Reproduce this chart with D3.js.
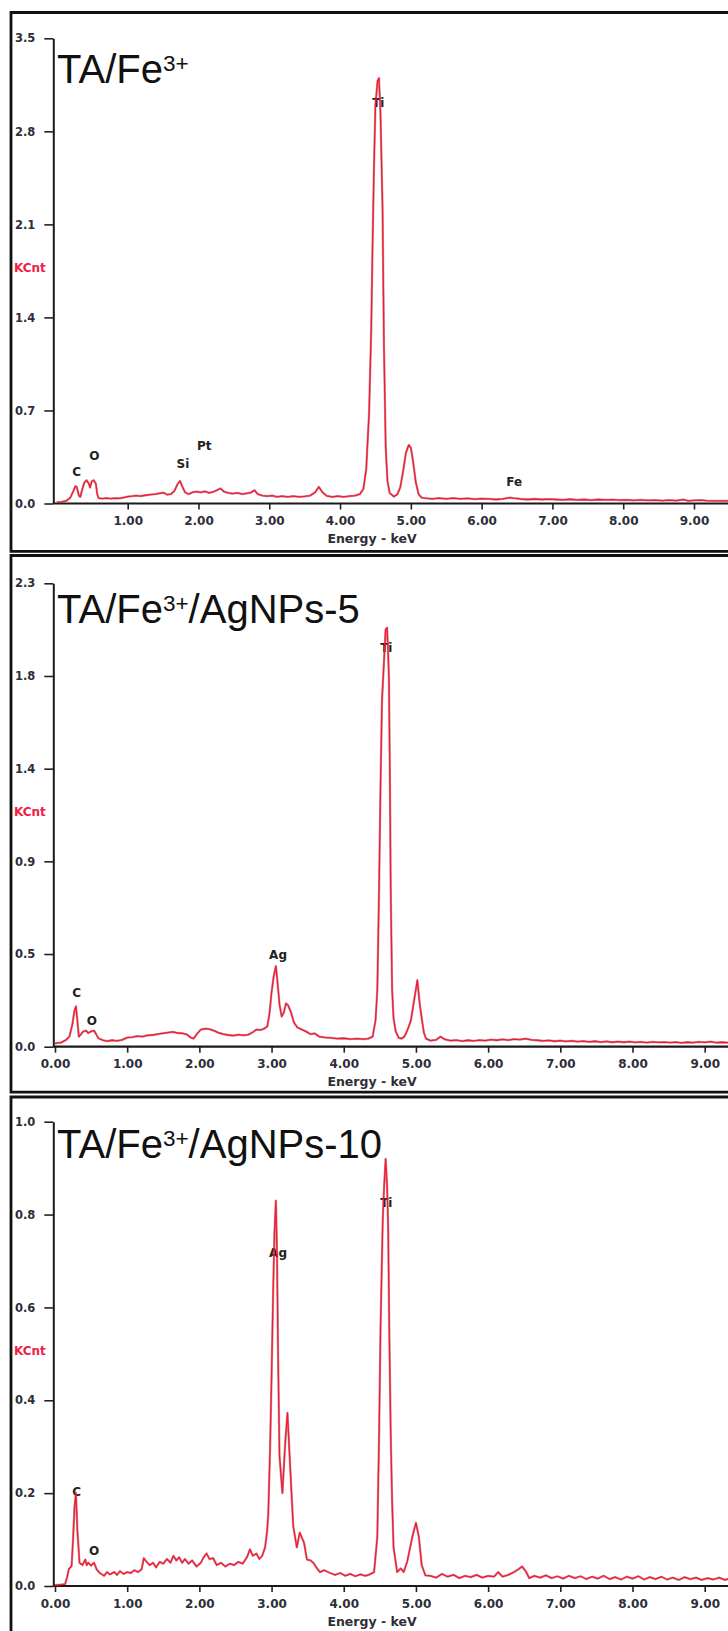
<!DOCTYPE html>
<html>
<head>
<meta charset="utf-8">
<script src="https://cdn.jsdelivr.net/npm/d3@7"></script>
<style>
  body { margin: 0; background: #fff; }
  svg { display: block; }
</style>
</head>
<body>
<svg id="chart" width="728" height="1631"></svg>
<script>
// ---- EDS spectra: [energy keV, KCnt] ----
const spectrumTA = [
  [0.00,0.010],[0.07,0.012],[0.14,0.022],[0.19,0.045],[0.23,0.09],[0.26,0.13],[0.28,0.125],[0.31,0.06],
  [0.33,0.05],[0.36,0.11],[0.39,0.16],[0.42,0.175],[0.45,0.15],[0.47,0.12],[0.49,0.165],[0.52,0.175],
  [0.55,0.15],[0.57,0.07],[0.59,0.04],[0.64,0.037],[0.70,0.04],[0.76,0.036],[0.82,0.04],[0.88,0.038],
  [0.94,0.045],[1.00,0.052],[1.06,0.055],[1.12,0.06],[1.18,0.056],[1.25,0.062],[1.32,0.066],[1.39,0.07],
  [1.45,0.076],[1.51,0.081],[1.56,0.066],[1.61,0.07],[1.66,0.095],[1.71,0.15],[1.74,0.169],[1.77,0.13],
  [1.81,0.085],[1.86,0.07],[1.92,0.085],[1.98,0.09],[2.03,0.083],[2.09,0.092],[2.15,0.08],[2.21,0.088],
  [2.26,0.10],[2.31,0.113],[2.36,0.09],[2.42,0.08],[2.48,0.074],[2.55,0.08],[2.62,0.07],[2.68,0.076],
  [2.74,0.082],[2.79,0.10],[2.84,0.07],[2.90,0.06],[2.97,0.055],[3.04,0.06],[3.11,0.05],[3.18,0.056],
  [3.26,0.05],[3.34,0.055],[3.42,0.05],[3.50,0.054],[3.58,0.06],[3.65,0.085],[3.70,0.125],[3.75,0.085],
  [3.81,0.058],[3.89,0.05],[3.97,0.055],[4.05,0.05],[4.13,0.055],[4.21,0.06],[4.28,0.07],[4.33,0.11],
  [4.37,0.26],[4.41,0.68],[4.44,1.30],[4.46,1.97],[4.48,2.55],[4.50,3.00],[4.53,3.18],[4.55,3.20],
  [4.57,2.95],[4.60,2.23],[4.62,1.19],[4.645,0.42],[4.67,0.17],[4.70,0.08],[4.76,0.052],[4.81,0.07],
  [4.85,0.12],[4.89,0.24],[4.93,0.38],[4.97,0.44],[5.00,0.42],[5.03,0.32],[5.07,0.16],[5.11,0.07],
  [5.15,0.045],[5.20,0.04],[5.30,0.035],[5.40,0.04],[5.50,0.035],[5.60,0.04],[5.70,0.035],[5.80,0.038],
  [5.90,0.033],[6.00,0.036],[6.10,0.035],[6.20,0.03],[6.30,0.035],[6.40,0.045],[6.45,0.04],[6.55,0.034],
  [6.65,0.03],[6.75,0.034],[6.85,0.03],[6.95,0.033],[7.05,0.03],[7.15,0.028],[7.25,0.032],[7.35,0.028],
  [7.45,0.03],[7.55,0.026],[7.65,0.03],[7.75,0.027],[7.85,0.029],[7.95,0.025],[8.05,0.028],[8.15,0.024],
  [8.25,0.027],[8.35,0.023],[8.45,0.026],[8.55,0.022],[8.65,0.025],[8.75,0.022],[8.85,0.03],[8.92,0.02],
  [9.00,0.024],[9.10,0.025],[9.17,0.022],[9.30,0.02],[9.48,0.02]
];

const spectrumAg5 = [
  [0.00,0.017],[0.08,0.02],[0.15,0.033],[0.20,0.05],[0.24,0.11],[0.27,0.18],[0.29,0.20],[0.31,0.13],
  [0.33,0.05],[0.36,0.062],[0.39,0.075],[0.43,0.08],[0.46,0.068],[0.50,0.076],[0.54,0.08],[0.57,0.062],
  [0.60,0.042],[0.66,0.033],[0.72,0.028],[0.79,0.032],[0.86,0.029],[0.93,0.034],[1.00,0.045],[1.07,0.048],
  [1.14,0.052],[1.21,0.05],[1.28,0.056],[1.35,0.058],[1.42,0.062],[1.49,0.066],[1.56,0.07],[1.63,0.074],
  [1.70,0.068],[1.77,0.066],[1.83,0.06],[1.88,0.045],[1.92,0.04],[1.97,0.065],[2.02,0.085],[2.08,0.09],
  [2.14,0.087],[2.20,0.08],[2.26,0.07],[2.33,0.062],[2.40,0.058],[2.47,0.055],[2.54,0.06],[2.61,0.056],
  [2.68,0.06],[2.74,0.072],[2.79,0.085],[2.85,0.083],[2.90,0.09],[2.94,0.10],[2.97,0.16],[3.00,0.27],
  [3.03,0.35],[3.06,0.40],[3.08,0.33],[3.11,0.21],[3.14,0.15],[3.17,0.17],[3.20,0.215],[3.23,0.205],
  [3.27,0.17],[3.31,0.12],[3.36,0.095],[3.42,0.085],[3.48,0.075],[3.54,0.062],[3.60,0.066],[3.66,0.05],
  [3.73,0.046],[3.82,0.044],[3.91,0.04],[4.00,0.042],[4.09,0.038],[4.18,0.04],[4.27,0.038],[4.34,0.04],
  [4.40,0.05],[4.44,0.13],[4.465,0.28],[4.49,0.80],[4.51,1.31],[4.53,1.72],[4.557,1.91],[4.58,2.07],
  [4.60,2.08],[4.615,1.95],[4.626,1.83],[4.64,1.30],[4.65,0.80],[4.67,0.28],[4.69,0.14],[4.72,0.076],
  [4.76,0.045],[4.80,0.04],[4.84,0.05],[4.88,0.08],[4.93,0.13],[4.97,0.22],[5.02,0.33],[5.05,0.22],
  [5.08,0.14],[5.11,0.07],[5.14,0.04],[5.20,0.03],[5.28,0.034],[5.34,0.05],[5.40,0.036],[5.48,0.03],
  [5.56,0.033],[5.64,0.028],[5.72,0.032],[5.80,0.029],[5.88,0.033],[5.96,0.03],[6.04,0.035],[6.12,0.032],
  [6.20,0.036],[6.28,0.033],[6.36,0.038],[6.44,0.035],[6.52,0.04],[6.60,0.034],[6.68,0.032],[6.76,0.029],
  [6.84,0.031],[6.92,0.027],[7.00,0.03],[7.08,0.026],[7.16,0.029],[7.24,0.025],[7.32,0.028],[7.40,0.024],
  [7.48,0.027],[7.56,0.023],[7.64,0.026],[7.72,0.022],[7.80,0.025],[7.88,0.022],[7.96,0.025],[8.04,0.021],
  [8.12,0.024],[8.20,0.02],[8.28,0.024],[8.36,0.021],[8.44,0.023],[8.52,0.02],[8.60,0.023],[8.68,0.019],
  [8.76,0.022],[8.84,0.02],[8.92,0.024],[9.00,0.021],[9.08,0.025],[9.16,0.02],[9.24,0.022],[9.32,0.02],
  [9.40,0.023],[9.50,0.02]
];

const spectrumAg10 = [
  [0.00,0.002],[0.08,0.003],[0.14,0.004],[0.17,0.02],[0.19,0.036],[0.23,0.043],[0.25,0.10],[0.27,0.17],
  [0.29,0.20],[0.31,0.12],[0.34,0.05],[0.38,0.045],[0.42,0.057],[0.44,0.045],[0.46,0.05],[0.50,0.044],
  [0.54,0.05],[0.58,0.035],[0.62,0.028],[0.68,0.022],[0.72,0.03],[0.76,0.025],[0.82,0.03],[0.86,0.024],
  [0.90,0.032],[0.95,0.026],[1.00,0.03],[1.05,0.028],[1.10,0.034],[1.15,0.03],[1.20,0.036],[1.23,0.06],
  [1.27,0.052],[1.31,0.045],[1.36,0.05],[1.40,0.04],[1.45,0.052],[1.50,0.048],[1.55,0.058],[1.60,0.05],
  [1.64,0.065],[1.68,0.055],[1.72,0.062],[1.76,0.05],[1.80,0.058],[1.85,0.048],[1.90,0.055],[1.96,0.042],
  [2.02,0.05],[2.06,0.062],[2.10,0.07],[2.14,0.058],[2.19,0.06],[2.24,0.045],[2.30,0.05],[2.36,0.042],
  [2.42,0.048],[2.48,0.045],[2.54,0.052],[2.60,0.048],[2.66,0.062],[2.70,0.079],[2.74,0.065],[2.79,0.07],
  [2.83,0.058],[2.87,0.065],[2.91,0.083],[2.94,0.12],[2.955,0.158],[2.98,0.30],[3.00,0.45],[3.02,0.62],
  [3.04,0.76],[3.06,0.83],[3.075,0.72],[3.09,0.50],[3.11,0.28],[3.15,0.20],[3.19,0.31],[3.22,0.373],
  [3.26,0.25],[3.30,0.129],[3.35,0.083],[3.39,0.115],[3.45,0.093],[3.49,0.057],[3.54,0.055],[3.58,0.05],
  [3.62,0.04],[3.67,0.03],[3.73,0.034],[3.81,0.028],[3.88,0.024],[3.95,0.028],[4.02,0.022],[4.09,0.026],
  [4.16,0.021],[4.23,0.025],[4.30,0.022],[4.36,0.025],[4.42,0.03],[4.465,0.106],[4.49,0.333],[4.51,0.56],
  [4.54,0.787],[4.56,0.863],[4.58,0.92],[4.60,0.863],[4.615,0.772],[4.63,0.56],[4.65,0.333],[4.67,0.182],
  [4.69,0.083],[4.74,0.03],[4.79,0.038],[4.83,0.03],[4.88,0.053],[4.95,0.106],[5.00,0.136],[5.04,0.106],
  [5.08,0.045],[5.13,0.023],[5.20,0.022],[5.28,0.018],[5.36,0.026],[5.44,0.02],[5.52,0.024],[5.60,0.017],
  [5.68,0.022],[5.76,0.019],[5.84,0.024],[5.92,0.018],[6.00,0.022],[6.08,0.02],[6.14,0.03],[6.20,0.02],
  [6.28,0.024],[6.36,0.03],[6.42,0.036],[6.47,0.042],[6.52,0.032],[6.57,0.017],[6.64,0.022],[6.72,0.018],
  [6.80,0.023],[6.88,0.017],[6.96,0.021],[7.04,0.016],[7.12,0.022],[7.20,0.017],[7.28,0.021],[7.36,0.015],
  [7.44,0.02],[7.52,0.016],[7.60,0.022],[7.68,0.015],[7.76,0.019],[7.84,0.014],[7.92,0.02],[8.00,0.016],
  [8.08,0.021],[8.16,0.014],[8.24,0.019],[8.32,0.015],[8.40,0.02],[8.48,0.014],[8.56,0.018],[8.64,0.013],
  [8.72,0.019],[8.80,0.015],[8.88,0.018],[8.96,0.013],[9.04,0.017],[9.12,0.014],[9.20,0.018],[9.28,0.013],
  [9.36,0.017],[9.44,0.014],[9.50,0.016]
];

// ---- element peak labels: [element, keV, KCnt] ----
const peaksTA   = [["C",0.28,0.24],["O",0.53,0.36],["Si",1.78,0.30],["Pt",2.08,0.43],["Ti",4.54,3.01],["Fe",6.46,0.16]];
const peaksAg5  = [["C",0.30,0.265],["O",0.51,0.13],["Ag",3.09,0.455],["Ti",4.59,1.98]];
const peaksAg10 = [["C",0.30,0.202],["O",0.54,0.075],["Ag",3.09,0.717],["Ti",4.59,0.825]];

// ---- axis ticks ----
const energyTicksTA = [1,2,3,4,5,6,7,8,9];
const energyTicks   = [0,1,2,3,4,5,6,7,8,9];
const countTicksTA    = [0,0.7,1.4,2.1,2.8,3.5];
const countLabelsTA   = ["0.0","0.7","1.4","2.1","2.8","3.5"];
const countTicksAg5   = [0,0.46,0.92,1.38,1.84,2.3];
const countLabelsAg5  = ["0.0","0.5","0.9","1.4","1.8","2.3"];
const countTicksAg10  = [0,0.2,0.4,0.6,0.8,1.0];
const countLabelsAg10 = ["0.0","0.2","0.4","0.6","0.8","1.0"];

// ---- sample titles ----
const titles = [
  ["TA/Fe", "3+", ""],
  ["TA/Fe", "3+", "/AgNPs-5"],
  ["TA/Fe", "3+", "/AgNPs-10"]
];

// ---- panel layout (pixels) ----
const panels = [
  { data: spectrumTA,   peaks: peaksTA,   title: titles[0], yMax: 3.5, yTicks: countTicksTA,   yLabels: countLabelsTA,   xTicks: energyTicksTA,
    frameTop: 12.5, frameBottom: 551.3, plotTop: 38.3,  plotZero: 503.5, x0: 56.9, x9: 694.0, titleY: 83.3 },
  { data: spectrumAg5,  peaks: peaksAg5,  title: titles[1], yMax: 2.3, yTicks: countTicksAg5,  yLabels: countLabelsAg5,  xTicks: energyTicks,
    frameTop: 555.5, frameBottom: 1092.2, plotTop: 583.3, plotZero: 1046.7, x0: 55, x9: 704.7, titleY: 623.3 },
  { data: spectrumAg10, peaks: peaksAg10, title: titles[2], yMax: 1.0, yTicks: countTicksAg10, yLabels: countLabelsAg10, xTicks: energyTicks,
    frameTop: 1097, frameBottom: 1634, plotTop: 1121.7, plotZero: 1586, x0: 55, x9: 704.7, titleY: 1158.3 }
];

const W = 728;
const axisX = 53.3;
const frameLeft = 11;
const tickFont = "'DejaVu Sans', Verdana, sans-serif";
const svg = d3.select("#chart");

panels.forEach(p => {
  const g = svg.append("g");
  const x = d3.scaleLinear().domain([0, 9]).range([p.x0, p.x9]);
  const y = d3.scaleLinear().domain([0, p.yMax]).range([p.plotZero, p.plotTop]);

  // panel frame (left, top, bottom edges; right edge lies outside the page)
  g.append("path")
    .attr("d", `M${W + 5},${p.frameTop}H${frameLeft}V${p.frameBottom}H${W + 5}`)
    .attr("fill", "none").attr("stroke", "#111").attr("stroke-width", 2.8);

  // title with superscript charge
  const t = g.append("text")
    .attr("x", 57).attr("y", p.titleY)
    .attr("font-family", "'Liberation Sans', Arial, sans-serif")
    .attr("font-size", 40).attr("fill", "#111");
  t.append("tspan").text(p.title[0]);
  t.append("tspan").attr("font-size", 22.5).attr("dy", -12).text(p.title[1]);
  if (p.title[2]) t.append("tspan").attr("dy", 12).text(p.title[2]);

  // x axis
  const xAxis = d3.axisBottom(x).tickValues(p.xTicks).tickFormat(d3.format(".2f"))
    .tickSize(6).tickSizeOuter(0).tickPadding(5);
  const gx = g.append("g").attr("transform", `translate(0,${p.plotZero})`).call(xAxis);
  gx.select(".domain").remove();
  gx.selectAll(".tick line").attr("stroke", "#222").attr("stroke-width", 1.6);
  gx.selectAll(".tick text")
    .attr("font-family", tickFont).attr("font-weight", "bold").attr("font-size", 12)
    .attr("fill", "#2e2e38").attr("dy", "0.9em");
  g.append("line")
    .attr("x1", axisX).attr("x2", W).attr("y1", p.plotZero).attr("y2", p.plotZero)
    .attr("stroke", "#1a1a1a").attr("stroke-width", 2.2);

  // y axis
  const yAxis = d3.axisLeft(y).tickValues(p.yTicks).tickFormat((d, i) => p.yLabels[i])
    .tickSize(9).tickSizeOuter(0);
  const gy = g.append("g").attr("transform", `translate(${axisX},0)`).call(yAxis);
  gy.select(".domain").attr("stroke", "#1a1a1a").attr("stroke-width", 2);
  gy.selectAll(".tick line").attr("stroke", "#222").attr("stroke-width", 1.6);
  gy.selectAll(".tick text")
    .attr("x", 15 - axisX).attr("text-anchor", "start")
    .attr("font-family", tickFont).attr("font-weight", "bold").attr("font-size", 11.5)
    .attr("fill", "#2e2e38");

  // axis titles
  g.append("text")
    .attr("x", 14).attr("y", (p.plotTop + p.plotZero) / 2 - 3)
    .attr("dominant-baseline", "central")
    .attr("font-family", tickFont).attr("font-weight", "bold").attr("font-size", 12)
    .attr("fill", "#f2203f").text("KCnt");
  g.append("text")
    .attr("x", 372).attr("y", p.plotZero + 35)
    .attr("text-anchor", "middle").attr("dominant-baseline", "central")
    .attr("font-family", tickFont).attr("font-weight", "bold").attr("font-size", 12.5)
    .attr("fill", "#2e2e38").text("Energy - keV");

  // element labels (spectrum is drawn over them)
  g.selectAll("text.peak").data(p.peaks).join("text")
    .attr("class", "peak")
    .attr("x", d => x(d[1])).attr("y", d => y(d[2]))
    .attr("text-anchor", "middle").attr("dominant-baseline", "central")
    .attr("font-family", tickFont).attr("font-weight", "bold").attr("font-size", 12)
    .attr("fill", "#222").text(d => d[0]);

  // spectrum trace: thin dark edge under a bright red line
  const line = d3.line().x(d => x(d[0])).y(d => y(d[1]));
  g.append("path").datum(p.data)
    .attr("d", line).attr("fill", "none")
    .attr("stroke", "#6e2a30").attr("stroke-opacity", 0.45).attr("stroke-width", 2.3)
    .attr("stroke-linejoin", "round");
  g.append("path").datum(p.data)
    .attr("d", line).attr("fill", "none")
    .attr("stroke", "#ff1530").attr("stroke-width", 1.3)
    .attr("stroke-linejoin", "round");
});
</script>
</body>
</html>
